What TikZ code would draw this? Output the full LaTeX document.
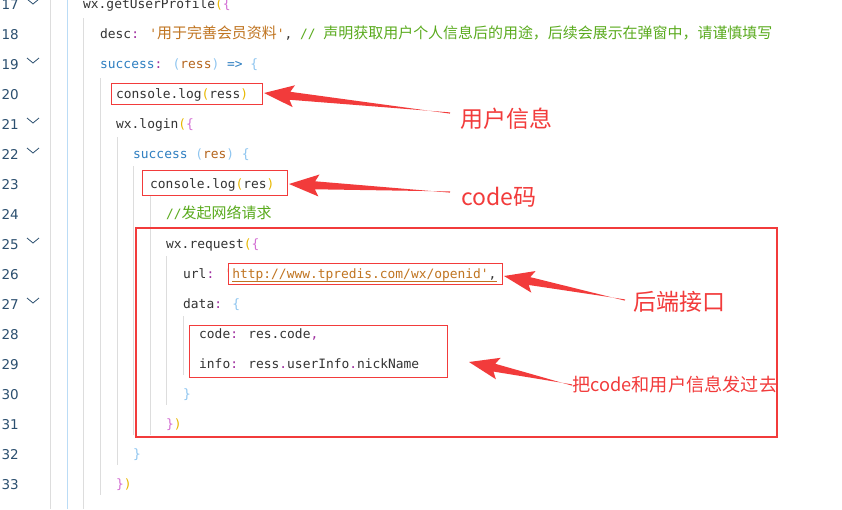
\documentclass[tikz,border=0pt]{standalone}
\usepackage{fontspec}
\usetikzlibrary{calc}
\newfontfamily\cjk{Noto Sans CJK SC}
\newfontfamily\cjkc{Noto Sans CJK SC}[Scale=1.16]
\newfontfamily\cmono{DejaVu Sans Mono}[Scale=1]
\newfontfamily\lnfont{DejaVu Sans}
\definecolor{tx}{HTML}{333333}
\definecolor{kb}{HTML}{2F7FC1}
\definecolor{pr}{HTML}{B5651D}
\definecolor{st}{HTML}{C07420}
\definecolor{cm}{HTML}{5AAB1E}
\definecolor{pb}{HTML}{8EC5F0}
\definecolor{yb}{HTML}{E8B800}
\definecolor{pk}{HTML}{D36FD3}
\definecolor{mg}{HTML}{A030A0}
\definecolor{ln}{HTML}{2B4F6F}
\definecolor{ar}{HTML}{F23B3B}
\definecolor{gd}{HTML}{DDDDDD}
\newcommand\CN[1]{{\cjkc #1}}
\tikzset{
 code/.style={anchor=base west,inner sep=0pt,font=\cmono\fontsize{12.9}{14}\selectfont,text=tx},
 lnum/.style={anchor=base east,inner sep=0pt,font=\lnfont\fontsize{13.5}{15}\selectfont,text=ln},
 lbl/.style={anchor=west,inner sep=0pt,text=ar,font=\cjk\fontsize{23}{26}\selectfont},
 thinbox/.style={draw=ar,line width=1pt},
 bigbox/.style={draw=ar,line width=2.6pt},
 guide/.style={draw=gd,line width=0.8pt},
 chev/.style={draw=ln,line width=0.8pt},
}
\newcommand\blockarrow[2]{%
 \fill[ar] (#1) -- ($(#1)!30pt!(#2)!11pt!90:(#2)$) -- ($(#1)!26pt!(#2)!4pt!90:(#2)$)
 -- ($(#2)!0.6pt!90:(#1)$) -- ($(#2)!0.6pt!-90:(#1)$)
 -- ($(#1)!26pt!(#2)!4pt!-90:(#2)$) -- ($(#1)!30pt!(#2)!11pt!-90:(#2)$) -- cycle;}
\begin{document}
\begin{tikzpicture}[x=1pt,y=-1pt]
\useasboundingbox[fill=white] (0,0) rectangle (842,509);
% guides
\draw[guide] (50,0) -- (50,509);
\draw[draw=pb!60,line width=0.8pt] (67,0) -- (67,509);
\draw[guide] (83,18) -- (83,509);
\draw[guide] (100,78) -- (100,495);
\draw[guide] (117,137) -- (117,465);
\draw[guide] (133,166) -- (133,435);
\draw[guide] (150,196) -- (150,435);
\draw[guide] (166,256) -- (166,405);
\draw[guide] (183,316) -- (183,375);
% line numbers
\foreach \n [count=\i from 0] in {17,...,33}
  \node[lnum] (n\n) at (19,{3+30*\i+6}) {\n};
\foreach \yy in {3,62,122,152,242,302}
  \draw[chev] (27,{\yy-4}) -- (33,{\yy+1}) -- (39,{\yy-4});
% code
\node[code] (c17) at (83,8) {wx.getUserProfile\textcolor{yb}{(}\textcolor{pk}{\{}};
\node[code] (c18) at (100,38) {desc\textcolor{mg}{:} \textcolor{st}{'\CN{用于完善会员资料}'}, \textcolor{cm}{// \CN{声明获取用户个人信息后的用途，后续会展示在弹窗中，请谨慎填写}}};
\node[code] (c19) at (100,68) {\textcolor{kb}{success}\textcolor{mg}{:} \textcolor{pb}{(}\textcolor{pr}{ress}\textcolor{pb}{)} \textcolor{kb}{=>} \textcolor{pb}{\{}};
\node[code] (c20) at (116,98) {console.log\textcolor{yb}{(}ress\textcolor{yb}{)}};
\node[code] (c21) at (116,128) {wx.login\textcolor{yb}{(}\textcolor{pk}{\{}};
\node[code] (c22) at (133,158) {\textcolor{kb}{success} \textcolor{pb}{(}\textcolor{pr}{res}\textcolor{pb}{)} \textcolor{pb}{\{}};
\node[code] (c23) at (150,188) {console.log\textcolor{yb}{(}res\textcolor{yb}{)}};
\node[code] (c24) at (166,218) {\textcolor{cm}{//\CN{发起网络请求}}};
\node[code] (c25) at (166,248) {wx.request\textcolor{yb}{(}\textcolor{pk}{\{}};
\node[code] (c26) at (183,278) {url\textcolor{mg}{:} \textcolor{st}{'http://www.tpredis.com/wx/openid'},};
\draw[st,line width=0.6pt] (232,281) -- (497,281);
\node[code] (c27) at (183,308) {data\textcolor{mg}{:} \textcolor{pb}{\{}};
\node[code] (c28) at (199,338) {code\textcolor{mg}{:} res.code\textcolor{mg}{,}};
\node[code] (c29) at (199,368) {info\textcolor{mg}{:} ress\textcolor{mg}{.}userInfo\textcolor{mg}{.}nickName};
\node[code] (c30) at (183,398) {\textcolor{pb}{\}}};
\node[code] (c31) at (166,428) {\textcolor{pk}{\}}\textcolor{yb}{)}};
\node[code] (c32) at (133,458) {\textcolor{pb}{\}}};
\node[code] (c33) at (116,488) {\textcolor{pk}{\}}\textcolor{yb}{)}};
% boxes
\draw[thinbox] (111,83) rectangle (262,104);
\draw[thinbox] (142,170) rectangle (287,195);
\draw[thinbox] (228,263) rectangle (502,284);
\draw[thinbox] (189,325) rectangle (447,377);
\draw[bigbox] (136,228) rectangle (777,437);
% labels
\node[lbl] (l1) at (460,119) {用户信息};
\node[lbl] (l2) at (461,197) {code码};
\node[lbl] (l3) at (633,302) {后端接口};
\node[lbl,font=\cjk\fontsize{18.2}{21}\selectfont] (l4) at (572,385) {把code和用户信息发过去};
% arrows
\coordinate (t1) at (264,93); \coordinate (e1) at (450,113);
\coordinate (t2) at (289,184); \coordinate (e2) at (450,192);
\coordinate (t3) at (504,276); \coordinate (e3) at (625,300);
\coordinate (t4) at (469,362); \coordinate (e4) at (572,385);
\blockarrow{t1}{e1}
\blockarrow{t2}{e2}
\blockarrow{t3}{e3}
\blockarrow{t4}{e4}
\end{tikzpicture}
\end{document}
